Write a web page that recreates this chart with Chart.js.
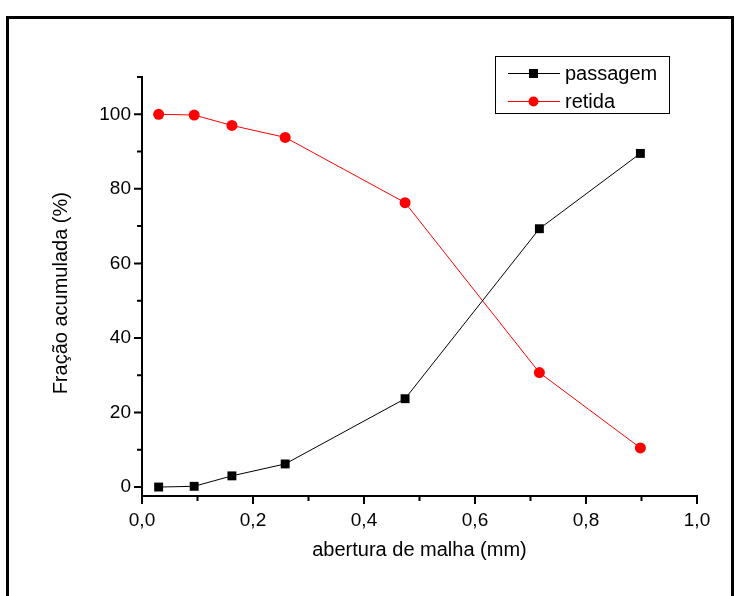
<!DOCTYPE html>
<html>
<head>
<meta charset="utf-8">
<script src="https://cdn.jsdelivr.net/npm/chart.js@4.4.1/dist/chart.umd.min.js"></script>
<style>
  html, body { margin: 0; padding: 0; background: #fff; }
  #wrap { position: relative; width: 737px; height: 596px; }
</style>
</head>
<body>
<div id="wrap"><canvas id="curve" width="737" height="596"></canvas></div>
<script>
// --- Data ---
const aberturas = [0.030, 0.094, 0.162, 0.258, 0.474, 0.716, 0.898];
const passagem = [0.0, 0.2, 3.0, 6.2, 23.7, 69.3, 89.5];
const retida = [100.0, 99.8, 97.0, 93.8, 76.3, 30.7, 10.5];
const xMajor = [0, 0.2, 0.4, 0.6, 0.8, 1.0];
const xMinor = [0.1, 0.3, 0.5, 0.7, 0.9];
const yMajor = [0, 20, 40, 60, 80, 100];
const yMinor = [10, 30, 50, 70, 90, 110];
const yTitle = 'Fração acumulada (%)';

const FONT = 'Liberation Sans, Arial, sans-serif';
const TICK_SIZE = 19;
const TEXT_SIZE = 20;

const toPoints = (xs, ys) => xs.map((x, i) => ({ x: x, y: ys[i] }));

// ticks are drawn by hand so major and minor can have different lengths
const tickMarks = {
    id: 'tickMarks',
    afterDraw(chart) {
        const { ctx, scales: { x, y } } = chart;
        ctx.save();
        ctx.strokeStyle = '#000';
        ctx.lineWidth = 2;
        const base = y.getPixelForValue(y.min);
        const left = x.getPixelForValue(x.min);
        ctx.beginPath();
        xMajor.forEach(v => { const px = x.getPixelForValue(v); ctx.moveTo(px, base); ctx.lineTo(px, base + 8); });
        xMinor.forEach(v => { const px = x.getPixelForValue(v); ctx.moveTo(px, base); ctx.lineTo(px, base + 5); });
        yMajor.forEach(v => { const py = y.getPixelForValue(v); ctx.moveTo(left, py); ctx.lineTo(left - 8, py); });
        yMinor.forEach(v => { const py = y.getPixelForValue(v); ctx.moveTo(left, py); ctx.lineTo(left - 5, py); });
        ctx.stroke();

        // vertical axis title, a bit below the middle of the axis
        ctx.fillStyle = '#000';
        ctx.font = TEXT_SIZE + 'px ' + FONT;
        ctx.textAlign = 'center';
        ctx.textBaseline = 'middle';
        ctx.translate(61, y.getPixelForValue(52));
        ctx.rotate(-Math.PI / 2);
        ctx.fillText(yTitle, 0, 0);
        ctx.restore();
    }
};

// boxed legend in the upper right and the outer frame
const boxLegend = {
    id: 'boxLegend',
    afterDraw(chart) {
        const ctx = chart.ctx;
        ctx.save();
        ctx.strokeStyle = '#000';
        ctx.lineWidth = 1;
        ctx.strokeRect(495.5, 56.5, 174, 57);

        const rows = [
            { ds: chart.data.datasets[0], y: 73 },
            { ds: chart.data.datasets[1], y: 101 }
        ];
        rows.forEach(r => {
            ctx.strokeStyle = r.ds.borderColor;
            ctx.lineWidth = 1;
            ctx.beginPath();
            ctx.moveTo(508, r.y + 0.5);
            ctx.lineTo(560, r.y + 0.5);
            ctx.stroke();
            ctx.fillStyle = r.ds.pointBackgroundColor;
            if (r.ds.pointStyle === 'rect') {
                ctx.fillRect(529, r.y - 4, 9, 9);
            } else {
                ctx.beginPath();
                ctx.arc(533.5, r.y + 0.5, 5, 0, Math.PI * 2);
                ctx.fill();
            }
            ctx.fillStyle = '#000';
            ctx.font = TEXT_SIZE + 'px ' + FONT;
            ctx.textBaseline = 'middle';
            ctx.fillText(r.ds.label, 565, r.y + 1);
        });

        ctx.strokeStyle = '#000';
        ctx.lineWidth = 3;
        ctx.beginPath();
        ctx.moveTo(7.5, 600);
        ctx.lineTo(7.5, 17.5);
        ctx.lineTo(732.5, 17.5);
        ctx.lineTo(732.5, 600);
        ctx.stroke();
        ctx.restore();
    }
};

const ctx = document.getElementById('curve');

new Chart(ctx, {
    type: 'scatter',
    data: {
        datasets: [
            {
                label: 'passagem',
                data: toPoints(aberturas, passagem),
                showLine: true,
                borderColor: '#000',
                borderWidth: 1,
                pointStyle: 'rect',
                pointRadius: 6.3,
                pointBackgroundColor: '#000',
                pointBorderWidth: 0
            },
            {
                label: 'retida',
                data: toPoints(aberturas, retida),
                showLine: true,
                borderColor: '#ff0000',
                borderWidth: 1,
                pointStyle: 'circle',
                pointRadius: 5.5,
                pointBackgroundColor: '#ff0000',
                pointBorderWidth: 0
            }
        ]
    },
    options: {
        responsive: false,
        animation: false,
        devicePixelRatio: 1,
        layout: { padding: { top: 77, right: 40, left: 0, bottom: 0 } },
        plugins: {
            legend: { display: false },
            tooltip: { enabled: false }
        },
        scales: {
            x: {
                type: 'linear',
                min: 0,
                max: 1.0,
                afterBuildTicks: s => { s.ticks = xMajor.map(v => ({ value: v })); },
                afterFit: s => { s.height = 100; },
                grid: { display: false, drawTicks: false },
                border: { display: true, color: '#000', width: 2 },
                ticks: {
                    color: '#000',
                    padding: 13,
                    font: { family: FONT, size: TICK_SIZE },
                    callback: v => v.toFixed(1).replace('.', ',')
                },
                title: {
                    display: true,
                    text: 'abertura de malha (mm)',
                    color: '#000',
                    font: { family: FONT, size: TEXT_SIZE },
                    padding: { top: 0, bottom: 34 }
                }
            },
            y: {
                type: 'linear',
                min: -2.4,
                max: 110,
                afterBuildTicks: s => { s.ticks = yMajor.map(v => ({ value: v })); },
                afterFit: s => { s.width = 142; },
                grid: { display: false, drawTicks: false },
                border: { display: true, color: '#000', width: 2 },
                ticks: {
                    color: '#000',
                    padding: 11,
                    font: { family: FONT, size: TICK_SIZE },
                    callback: v => String(v)
                },
                title: { display: false }
            }
        }
    },
    plugins: [tickMarks, boxLegend]
});
</script>
</body>
</html>
